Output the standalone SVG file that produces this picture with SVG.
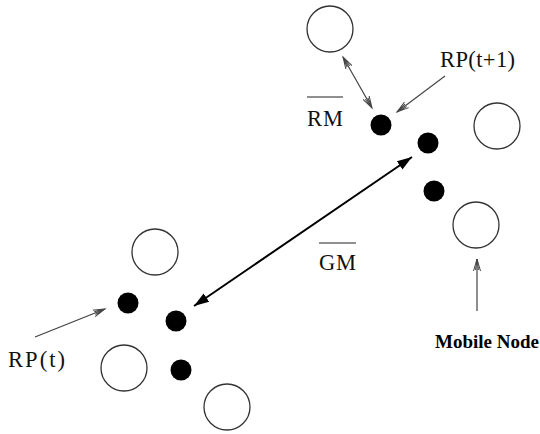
<svg xmlns="http://www.w3.org/2000/svg" width="540" height="434" viewBox="0 0 540 434">
  <style>
    .ring { fill: none; stroke: #333; stroke-width: 1.3; }
    .dot { fill: #000; }
    .thin { stroke: #444; stroke-width: 1.2; fill: none; }
    .bold { stroke: #000; stroke-width: 2; fill: none; }
    .lbl { font-family: "Liberation Serif", "Times New Roman", serif; font-size: 22.5px; fill: #111; }
    .lblb { font-family: "Liberation Serif", "Times New Roman", serif; font-size: 19px; font-weight: bold; fill: #000; }
    .bar { stroke: #222; stroke-width: 1.2; }
  </style>
  <defs>
    <marker id="open" markerUnits="userSpaceOnUse" markerWidth="14" markerHeight="10" refX="12" refY="4" orient="auto-start-reverse" viewBox="0 0 14 8">
      <path d="M0,0.5 L12,4 L0,7.5 M1,2.5 L12,4 L1,5.5" fill="none" stroke="#444" stroke-width="1"/>
    </marker>
    <marker id="solid" markerUnits="userSpaceOnUse" markerWidth="16" markerHeight="12" refX="15" refY="5" orient="auto-start-reverse" viewBox="0 0 16 10">
      <path d="M0,0 L15,5 L0,10 z" fill="#000"/>
    </marker>
  </defs>

  <!-- access points -->
  <g id="ap-top"><circle class="ring" cx="330" cy="29" r="23"/></g>
  <g id="ap-right"><circle class="ring" cx="497" cy="126" r="23"/></g>
  <g id="ap-mobile"><circle class="ring" cx="476" cy="225" r="23"/></g>
  <g id="ap-left-top"><circle class="ring" cx="155" cy="252" r="23"/></g>
  <g id="ap-left-mid"><circle class="ring" cx="124" cy="368" r="23"/></g>
  <g id="ap-left-bottom"><circle class="ring" cx="227" cy="407" r="23"/></g>

  <!-- group nodes -->
  <g id="rp-t1"><circle class="dot" cx="381" cy="125" r="10.5"/></g>
  <g id="g2"><circle class="dot" cx="428" cy="143" r="10.5"/></g>
  <g id="g3"><circle class="dot" cx="434" cy="191" r="10.5"/></g>
  <g id="rp-t"><circle class="dot" cx="128" cy="303" r="10.5"/></g>
  <g id="g5"><circle class="dot" cx="176" cy="321" r="10.5"/></g>
  <g id="g6"><circle class="dot" cx="181" cy="370" r="10.5"/></g>

  <!-- connectors -->
  <g id="connectors">
    <line class="thin" x1="343" y1="57" x2="372" y2="108" marker-start="url(#open)" marker-end="url(#open)"/>
    <line class="thin" x1="445" y1="76" x2="397" y2="112" marker-end="url(#open)"/>
    <line class="bold" x1="412" y1="157" x2="194" y2="306" marker-start="url(#solid)" marker-end="url(#solid)"/>
    <line class="thin" x1="35" y1="337" x2="105" y2="309" marker-end="url(#open)"/>
    <line class="thin" x1="477" y1="311" x2="477" y2="259" marker-end="url(#open)"/>
  </g>

  <!-- labels -->
  <g id="labels">
    <text class="lbl" x="440" y="67" textLength="75">RP(t+1)</text>
    <line class="bar" x1="307" y1="97" x2="343" y2="97"/>
    <text class="lbl" x="307" y="126" textLength="36">RM</text>
    <line class="bar" x1="319" y1="243" x2="356" y2="243"/>
    <text class="lbl" x="319" y="270" textLength="37">GM</text>
    <text class="lbl" x="8" y="367" textLength="57">RP(t)</text>
    <text class="lblb" x="435" y="348" textLength="104">Mobile Node</text>
  </g>
</svg>
